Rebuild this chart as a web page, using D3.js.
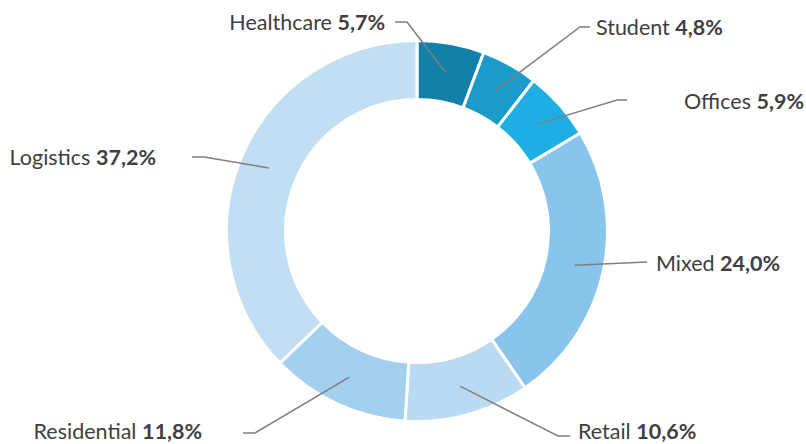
<!DOCTYPE html>
<html>
<head>
<meta charset="utf-8">
<script src="https://cdn.jsdelivr.net/npm/d3@7"></script>
<style>
  body { margin: 0; background: #fff; }
  svg text { font-family: Lato, "Open Sans", sans-serif; font-size: 21.5px; fill: #404040; }
</style>
</head>
<body>
<svg id="Donut" width="806" height="444"></svg>
<script>
(function() {
const categories = ['Healthcare', 'Student', 'Offices', 'Mixed', 'Retail', 'Residential', 'Logistics'];
const shares = [5.7, 4.8, 5.9, 24.0, 10.6, 11.8, 37.2];
const valueLabels = ['5,7%', '4,8%', '5,9%', '24,0%', '10,6%', '11,8%', '37,2%'];

const colors = ['#1380a9', '#1a9bc9', '#1faee3', '#88c4eb', '#bad9f2', '#a3d0ef', '#c2def3'];

// where Excel put each label: elbow of the leader line, then text start/end
const labelLayout = [
  { elbow: [407, 22], tail: 395, textX: 385, textY: 22, anchor: 'end' },
  { elbow: [580, 27], tail: 590, textX: 596, textY: 27, anchor: 'start' },
  { elbow: [617, 100], tail: 627, textX: 684, textY: 101, anchor: 'start' },
  { elbow: [647, 262], tail: 647, textX: 656, textY: 263, anchor: 'start' },
  { elbow: [558, 436], tail: 570, textX: 578, textY: 431, anchor: 'start' },
  { elbow: [255, 433], tail: 243, textX: 202, textY: 431, anchor: 'end' },
  { elbow: [204, 157], tail: 192, textX: 156, textY: 157, anchor: 'end' },
];

const svg = d3.select('svg#Donut');
const cx = 417, cy = 231;
const outer = 190.5, inner = 131.5;

const pie = d3.pie().sort(null).value(d => d);
const arcs = pie(shares);
const arc = d3.arc().innerRadius(inner).outerRadius(outer);
const mid = d3.arc().innerRadius(161).outerRadius(161);

const g = svg.append('g').attr('transform', `translate(${cx},${cy})`);
g.selectAll('path.slice')
    .data(arcs)
  .enter().append('path')
    .attr('class', 'slice')
    .attr('d', arc)
    .attr('fill', (d, i) => colors[i])
    .attr('stroke', '#fff')
    .attr('stroke-width', 3);

const line = d3.line();
arcs.forEach((d, i) => {
  const c = mid.centroid(d);
  const L = labelLayout[i];
  const pts = [[c[0] + cx, c[1] + cy], L.elbow, [L.tail, L.elbow[1]]];
  svg.append('path')
      .attr('d', line(pts))
      .attr('fill', 'none')
      .attr('stroke', '#7f7f7f')
      .attr('stroke-width', 1.5);
  const t = svg.append('text')
      .attr('x', L.textX)
      .attr('y', L.textY)
      .attr('dy', '0.35em')
      .attr('text-anchor', L.anchor);
  t.append('tspan').text(categories[i] + ' ');
  t.append('tspan').attr('font-weight', 'bold').text(valueLabels[i]);
});
})();
</script>
</body>
</html>
